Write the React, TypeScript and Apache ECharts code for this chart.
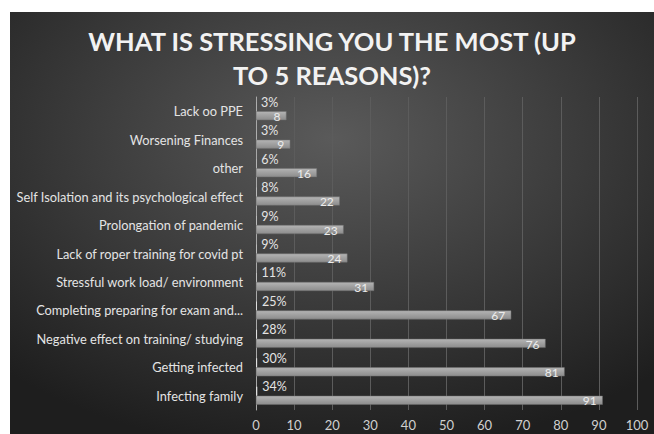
import React, { useEffect, useRef } from "react";
import * as echarts from "echarts";

const categories = [
  "Lack oo PPE",
  "Worsening Finances",
  "other",
  "Self Isolation and its psychological effect",
  "Prolongation of pandemic",
  "Lack of roper training for covid pt",
  "Stressful work load/ environment",
  "Completing preparing for exam and...",
  "Negative effect on training/ studying",
  "Getting infected",
  "Infecting family",
];
const percentValues = [0.03, 0.03, 0.06, 0.08, 0.09, 0.09, 0.11, 0.25, 0.28, 0.3, 0.34];
const countValues = [8, 9, 16, 22, 23, 24, 31, 67, 76, 81, 91];
const xTicks = [0, 10, 20, 30, 40, 50, 60, 70, 80, 90, 100];

const FONT = "Lato, 'Open Sans', sans-serif";

export default function App() {
  const ref = useRef<HTMLDivElement>(null);
  useEffect(() => {
    if (!ref.current) return;
    const chart = echarts.init(ref.current, undefined, { renderer: "svg" });
    chart.setOption({
      animation: false,
      backgroundColor: {
        type: "radial",
        x: 0.5,
        y: 0.3,
        r: 0.75,
        colorStops: [
          { offset: 0, color: "#5a5a5a" },
          { offset: 1, color: "#1e1e1e" },
        ],
      },
      title: {
        text: "WHAT IS STRESSING YOU THE MOST (UP\nTO 5 REASONS)?",
        left: "center",
        top: 7,
        textStyle: {
          color: "#f2f2f2",
          fontFamily: FONT,
          fontWeight: "bold",
          fontSize: 25.5,
          lineHeight: 34,
        },
      },
      grid: { left: 246, right: 17, top: 85, bottom: 24, containLabel: false },
      xAxis: {
        type: "value",
        min: xTicks[0],
        max: xTicks[xTicks.length - 1],
        interval: 10,
        axisLine: { show: false },
        axisTick: { show: false },
        axisLabel: { color: "#d0d0d0", fontFamily: FONT, fontSize: 13, margin: 8 },
        splitLine: { show: true, lineStyle: { color: "#5c5c5c", width: 1 } },
      },
      yAxis: {
        type: "category",
        data: categories,
        inverse: true,
        axisLine: { show: true, lineStyle: { color: "#a8a8a8", width: 1 } },
        axisTick: { show: false },
        axisLabel: { color: "#e4e4e4", fontFamily: FONT, fontSize: 12.8, margin: 13 },
        splitLine: { show: false },
      },
      series: [
        {
          name: "Percent",
          type: "bar",
          data: percentValues,
          barWidth: 9,
          barGap: "0%",
          itemStyle: { color: "#e0e0e0" },
          label: {
            show: true,
            position: "right",
            distance: 5,
            offset: [0, -4.5],
            color: "#e4e4e4",
            fontFamily: FONT,
            fontSize: 12.5,
            formatter: (p: any) => Math.round(p.value * 100) + "%",
          },
        },
        {
          name: "Count",
          type: "bar",
          data: countValues,
          barWidth: 9,
          barGap: "0%",
          itemStyle: {
            color: {
              type: "linear",
              x: 0,
              y: 0,
              x2: 0,
              y2: 1,
              colorStops: [
                { offset: 0, color: "#b4b4b4" },
                { offset: 1, color: "#8c8c8c" },
              ],
            },
            borderColor: "#6e6e6e",
            borderWidth: 0.5,
          },
          label: {
            show: true,
            position: "insideRight",
            distance: 6,
            offset: [0, 0.7],
            color: "#ececec",
            fontFamily: FONT,
            fontSize: 12,
          },
        },
      ],
    });
    return () => chart.dispose();
  }, []);
  return (
    <div style={{ position: "fixed", left: 0, top: 0, width: 654, height: 434, background: "#ffffff" }}>
      <div ref={ref} style={{ position: "absolute", left: 10, top: 12, width: 644, height: 422 }} />
    </div>
  );
}
